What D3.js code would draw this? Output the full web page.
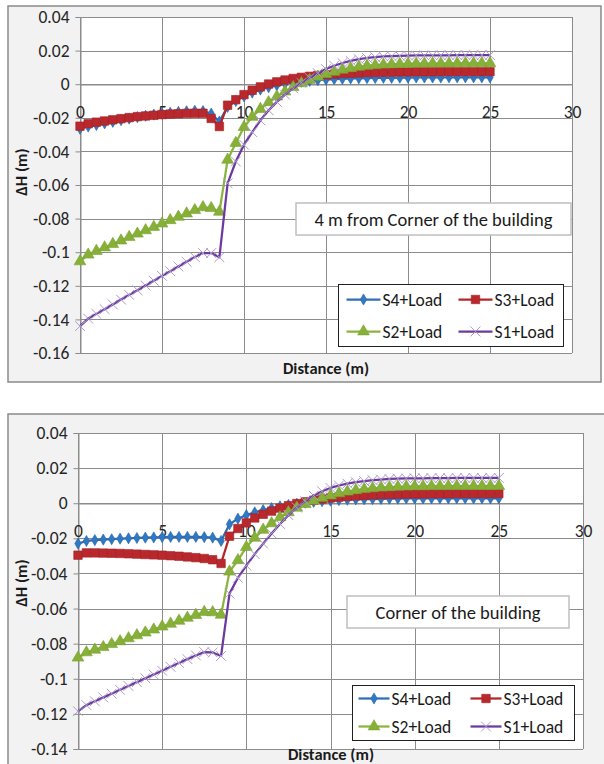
<!DOCTYPE html>
<html>
<head>
<meta charset="utf-8">
<script src="https://cdn.jsdelivr.net/npm/d3@7"></script>
<style>
  html, body { margin: 0; padding: 0; background: #ffffff; }
  svg { display: block; }
  text { font-family: Carlito, Lato, "Open Sans", sans-serif; }
</style>
</head>
<body>
<script>
// Distance along the section (m), sampled every 0.5 m
const distance = [
  0, 0.5, 1, 1.5, 2, 2.5, 3, 3.5, 4, 4.5, 5, 5.5, 6, 6.5, 7, 7.5, 8, 8.5,
  9, 9.5, 10, 10.5, 11, 11.5, 12, 12.5, 13, 13.5, 14, 14.5, 15, 15.5, 16, 16.5,
  17, 17.5, 18, 18.5, 19, 19.5, 20, 20.5, 21, 21.5, 22, 22.5, 23, 23.5, 24, 24.5, 25
];

const seriesNames = ["S4+Load", "S3+Load", "S2+Load", "S1+Load"];

// ---- 4 m from corner of the building: ΔH (m) ----
const s4Offset = [
  -0.0265, -0.0252, -0.0243, -0.0233, -0.0224, -0.0214, -0.0205, -0.0196, -0.0188, -0.0181,
  -0.0175, -0.0170, -0.0165, -0.0161, -0.0158, -0.0160, -0.0175, -0.0222,
  -0.0135, -0.0100, -0.0072, -0.0050, -0.0032, -0.0018, -0.0007, 0.0002, 0.0009, 0.0015,
  0.0020, 0.0024, 0.0027, 0.0030, 0.0032, 0.0034, 0.0035, 0.0036, 0.0037, 0.0038, 0.0038,
  0.0039, 0.0039, 0.0040, 0.0040, 0.0040, 0.0040, 0.0041, 0.0041, 0.0041, 0.0041, 0.0041, 0.0041
];
const s3Offset = [
  -0.0250, -0.0235, -0.0226, -0.0219, -0.0212, -0.0205, -0.0199, -0.0193, -0.0189, -0.0185,
  -0.0181, -0.0178, -0.0176, -0.0174, -0.0173, -0.0173, -0.0204, -0.0252,
  -0.0125, -0.0092, -0.0062, -0.0036, -0.0016, 0.0001, 0.0014, 0.0025, 0.0034, 0.0041,
  0.0047, 0.0052, 0.0056, 0.0060, 0.0063, 0.0065, 0.0067, 0.0069, 0.0070, 0.0071, 0.0072,
  0.0073, 0.0073, 0.0074, 0.0074, 0.0074, 0.0075, 0.0075, 0.0075, 0.0075, 0.0075, 0.0075, 0.0075
];
const s2Offset = [
  -0.1055, -0.1015, -0.0993, -0.0972, -0.0952, -0.0931, -0.0910, -0.0890, -0.0870, -0.0850,
  -0.0830, -0.0810, -0.0790, -0.0770, -0.0750, -0.0733, -0.0738, -0.0760,
  -0.0450, -0.0350, -0.0255, -0.0195, -0.0148, -0.0108, -0.0074, -0.0044, -0.0018, 0.0005,
  0.0025, 0.0044, 0.0060, 0.0074, 0.0086, 0.0095, 0.0103, 0.0109, 0.0113, 0.0116, 0.0118,
  0.0120, 0.0121, 0.0122, 0.0122, 0.0123, 0.0123, 0.0123, 0.0124, 0.0124, 0.0124, 0.0124, 0.0124
];
const s1Offset = [
  -0.1440, -0.1395, -0.1367, -0.1339, -0.1311, -0.1282, -0.1254, -0.1226, -0.1198, -0.1170,
  -0.1141, -0.1113, -0.1085, -0.1057, -0.1029, -0.1005, -0.1005, -0.1030,
  -0.0590, -0.0460, -0.0360, -0.0285, -0.0215, -0.0155, -0.0105, -0.0062, -0.0025, 0.0008,
  0.0038, 0.0065, 0.0090, 0.0110, 0.0126, 0.0139, 0.0149, 0.0156, 0.0161, 0.0165, 0.0167,
  0.0169, 0.0170, 0.0171, 0.0171, 0.0172, 0.0172, 0.0172, 0.0173, 0.0173, 0.0173, 0.0173, 0.0173
];

// ---- Corner of the building: ΔH (m) ----
const s4Corner = [
  -0.0230, -0.0215, -0.0210, -0.0207, -0.0205, -0.0202, -0.0200, -0.0198, -0.0196, -0.0195,
  -0.0193, -0.0192, -0.0192, -0.0192, -0.0192, -0.0193, -0.0196, -0.0215,
  -0.0120, -0.0088, -0.0068, -0.0052, -0.0039, -0.0028, -0.0018, -0.0010, -0.0003, 0.0003,
  0.0008, 0.0012, 0.0015, 0.0018, 0.0020, 0.0022, 0.0023, 0.0024, 0.0025, 0.0026, 0.0026,
  0.0027, 0.0027, 0.0027, 0.0028, 0.0028, 0.0028, 0.0028, 0.0028, 0.0028, 0.0028, 0.0028, 0.0028
];
const s3Corner = [
  -0.0296, -0.0283, -0.0283, -0.0284, -0.0285, -0.0286, -0.0288, -0.0290, -0.0292, -0.0294,
  -0.0296, -0.0299, -0.0302, -0.0306, -0.0310, -0.0315, -0.0322, -0.0343,
  -0.0188, -0.0144, -0.0112, -0.0084, -0.0063, -0.0045, -0.0028, -0.0014, -0.0002, 0.0008,
  0.0017, 0.0024, 0.0030, 0.0035, 0.0039, 0.0042, 0.0045, 0.0047, 0.0049, 0.0050, 0.0051,
  0.0052, 0.0053, 0.0053, 0.0054, 0.0054, 0.0054, 0.0055, 0.0055, 0.0055, 0.0055, 0.0055, 0.0055
];
const s2Corner = [
  -0.0880, -0.0850, -0.0835, -0.0820, -0.0803, -0.0787, -0.0770, -0.0753, -0.0737, -0.0720,
  -0.0703, -0.0687, -0.0670, -0.0653, -0.0637, -0.0620, -0.0622, -0.0636,
  -0.0390, -0.0325, -0.0250, -0.0197, -0.0152, -0.0115, -0.0080, -0.0052, -0.0026, -0.0005,
  0.0014, 0.0030, 0.0044, 0.0056, 0.0066, 0.0074, 0.0080, 0.0085, 0.0089, 0.0091, 0.0093,
  0.0095, 0.0096, 0.0096, 0.0097, 0.0097, 0.0097, 0.0098, 0.0098, 0.0098, 0.0098, 0.0098, 0.0098
];
const s1Corner = [
  -0.1185, -0.1150, -0.1128, -0.1106, -0.1085, -0.1063, -0.1041, -0.1019, -0.0997, -0.0976,
  -0.0954, -0.0932, -0.0910, -0.0888, -0.0867, -0.0848, -0.0850, -0.0870,
  -0.0515, -0.0425, -0.0355, -0.0290, -0.0230, -0.0172, -0.0118, -0.0068, -0.0025, 0.0012,
  0.0043, 0.0068, 0.0087, 0.0101, 0.0112, 0.0120, 0.0126, 0.0131, 0.0135, 0.0138, 0.0140,
  0.0141, 0.0142, 0.0142, 0.0143, 0.0143, 0.0143, 0.0144, 0.0144, 0.0144, 0.0144, 0.0144, 0.0144
];

// Axis ticks
const xTicks = [0, 5, 10, 15, 20, 25, 30];
const xTickLabels = ["0", "5", "10", "15", "20", "25", "30"];
const yTicksOffset = [0.04, 0.02, 0, -0.02, -0.04, -0.06, -0.08, -0.1, -0.12, -0.14, -0.16];
const yTickLabelsOffset = ["0.04", "0.02", "0", "-0.02", "-0.04", "-0.06", "-0.08", "-0.1", "-0.12", "-0.14", "-0.16"];
const yTicksCorner = [0.04, 0.02, 0, -0.02, -0.04, -0.06, -0.08, -0.1, -0.12, -0.14];
const yTickLabelsCorner = ["0.04", "0.02", "0", "-0.02", "-0.04", "-0.06", "-0.08", "-0.1", "-0.12", "-0.14"];

const chartTitles = ["4 m from Corner of the building", "Corner of the building"];
const xTitle = "Distance (m)";
const yTitle = "ΔH (m)";

// Series appearance: S4 diamond, S3 square, S2 triangle, S1 cross
const styles = [
  { line: "#2f6fba", fill: "#2f78c4", stroke: "#2565a8", type: d3.symbolDiamond, size: 36, cross: false },
  { line: "#b3262a", fill: "#b8282c", stroke: "#a52226", type: d3.symbolSquare, size: 72, cross: false },
  { line: "#8ab43c", fill: "#86b038", stroke: "#7aa233", type: d3.symbolTriangle, size: 60, cross: false },
  { line: "#6c3a9e", fill: "none", stroke: "#ad9bcc", type: d3.symbolTimes, size: 64, cross: true }
];

const svg = d3.select("body").append("svg")
  .attr("width", 604).attr("height", 764);

function drawPanel(cfg) {
  const g = svg.append("g");

  // chart area
  g.append("rect")
    .attr("x", cfg.frame[0]).attr("y", cfg.frame[1])
    .attr("width", cfg.frame[2]).attr("height", cfg.frame[3])
    .attr("fill", "#f2f2f2").attr("stroke", "#8a8a8a").attr("stroke-width", 1.5);

  const x = d3.scaleLinear().domain([0, 30]).range([cfg.plot.left, cfg.plot.right]);
  const y = d3.scaleLinear().domain([cfg.yTicks[0], cfg.yTicks[cfg.yTicks.length - 1]])
    .range([cfg.plot.top, cfg.plot.bottom]);

  // plot area
  g.append("rect")
    .attr("x", cfg.plot.left).attr("y", cfg.plot.top)
    .attr("width", cfg.plot.right - cfg.plot.left).attr("height", cfg.plot.bottom - cfg.plot.top)
    .attr("fill", "#ffffff");

  // gridlines
  const grid = g.append("g").attr("stroke", "#8c8c8c").attr("stroke-width", 1).attr("shape-rendering", "crispEdges");
  grid.selectAll("line.h").data(cfg.yTicks).join("line")
    .attr("x1", cfg.plot.left).attr("x2", cfg.plot.right)
    .attr("y1", d => Math.round(y(d)) + 0.5).attr("y2", d => Math.round(y(d)) + 0.5);
  grid.selectAll("line.v").data(xTicks).join("line")
    .attr("x1", d => Math.round(x(d)) + 0.5).attr("x2", d => Math.round(x(d)) + 0.5)
    .attr("y1", cfg.plot.top).attr("y2", cfg.plot.bottom);

  // y axis with outward ticks
  const yAxis = d3.axisLeft(y).tickValues(cfg.yTicks)
    .tickFormat((d, i) => cfg.yLabels[i]).tickSize(5).tickPadding(6);
  const ya = g.append("g").attr("transform", `translate(${Math.round(cfg.plot.left) + 0.5},0)`).call(yAxis);
  ya.select(".domain").attr("stroke", "#8c8c8c");
  ya.selectAll(".tick line").attr("stroke", "#8c8c8c");
  ya.selectAll(".tick text").attr("fill", "#262626").style("font-size", "17.5px");

  // x axis crossing at ΔH = 0
  const xAxis = d3.axisBottom(x).tickValues(xTicks)
    .tickFormat((d, i) => xTickLabels[i]).tickSize(0).tickPadding(21);
  const xa = g.append("g").attr("transform", `translate(0,${Math.round(y(0)) + 0.5})`).call(xAxis);
  xa.select(".domain").attr("stroke", "#8c8c8c");
  xa.selectAll(".tick text").attr("fill", "#262626").style("font-size", "17.5px");

  // series
  const lineGen = d3.line().x((d, i) => x(distance[i])).y(d => y(d));
  cfg.series.forEach((vals, k) => {
    const st = styles[k];
    const sg = g.append("g");
    sg.append("path").datum(vals)
      .attr("d", lineGen).attr("fill", "none")
      .attr("stroke", st.line).attr("stroke-width", 2.25).attr("stroke-linejoin", "round");
    const sym = d3.symbol().type(st.type).size(st.size);
    sg.selectAll("path.m").data(vals).join("path")
      .attr("class", "m")
      .attr("transform", (d, i) => `translate(${x(distance[i])},${y(d)})`)
      .attr("d", sym)
      .attr("fill", st.cross ? "none" : st.fill)
      .attr("stroke", st.stroke)
      .attr("stroke-width", st.cross ? 1 : 0.6);
  });

  // title box
  const tb = cfg.titleBox;
  g.append("rect").attr("x", tb[0]).attr("y", tb[1]).attr("width", tb[2]).attr("height", tb[3])
    .attr("fill", "#ffffff").attr("stroke", "#bfbfbf").attr("stroke-width", 1.5);
  g.append("text").attr("x", tb[0] + tb[2] / 2).attr("y", tb[1] + tb[3] / 2)
    .attr("text-anchor", "middle").attr("dominant-baseline", "central")
    .attr("fill", "#1a1a1a").style("font-size", "18.5px").text(cfg.title);

  // legend
  const lb = cfg.legendBox;
  g.append("rect").attr("x", lb[0]).attr("y", lb[1]).attr("width", lb[2]).attr("height", lb[3])
    .attr("fill", "#ffffff").attr("stroke", "#202020").attr("stroke-width", 1);
  seriesNames.forEach((name, k) => {
    const col = k % 2, row = Math.floor(k / 2);
    const lx = lb[0] + cfg.legendCols[col];
    const ly = lb[1] + cfg.legendRows[row];
    const st = styles[k];
    g.append("line").attr("x1", lx).attr("x2", lx + cfg.legendLine)
      .attr("y1", ly).attr("y2", ly)
      .attr("stroke", st.line).attr("stroke-width", 2.25);
    g.append("path")
      .attr("transform", `translate(${lx + cfg.legendLine / 2},${ly})`)
      .attr("d", d3.symbol().type(st.type).size(st.size))
      .attr("fill", st.cross ? "none" : st.fill)
      .attr("stroke", st.stroke).attr("stroke-width", st.cross ? 1 : 0.6);
    g.append("text").attr("x", lx + cfg.legendLine + 2).attr("y", ly)
      .attr("dominant-baseline", "central").attr("fill", "#1a1a1a")
      .style("font-size", "17.5px").text(name);
  });

  // axis titles
  g.append("text").attr("x", cfg.xTitlePos[0]).attr("y", cfg.xTitlePos[1])
    .attr("text-anchor", "middle").attr("dominant-baseline", "central")
    .attr("fill", "#1a1a1a").style("font-size", "16.5px").style("font-weight", "bold").text(xTitle);
  g.append("text")
    .attr("transform", `translate(${cfg.yTitlePos[0]},${cfg.yTitlePos[1]}) rotate(-90)`)
    .attr("text-anchor", "middle").attr("dominant-baseline", "central")
    .attr("fill", "#1a1a1a").style("font-size", "16.5px").style("font-weight", "bold").text(yTitle);
}

drawPanel({
  frame: [8, 6, 593, 376],
  plot: { left: 80, right: 572, top: 17, bottom: 353 },
  yTicks: yTicksOffset, yLabels: yTickLabelsOffset,
  series: [s4Offset, s3Offset, s2Offset, s1Offset],
  title: chartTitles[0],
  titleBox: [296, 203, 275, 32],
  legendBox: [338.5, 284.5, 225, 62],
  legendCols: [8, 120], legendRows: [15, 47], legendLine: 34,
  xTitlePos: [326, 368],
  yTitlePos: [21, 172]
});

drawPanel({
  frame: [8, 414, 600, 360],
  plot: { left: 78, right: 583, top: 433, bottom: 749 },
  yTicks: yTicksCorner, yLabels: yTickLabelsCorner,
  series: [s4Corner, s3Corner, s2Corner, s1Corner],
  title: chartTitles[1],
  titleBox: [347, 596, 222, 32],
  legendBox: [352.5, 685.5, 222, 55],
  legendCols: [6, 118], legendRows: [13, 41], legendLine: 31,
  xTitlePos: [331, 754],
  yTitlePos: [21, 583]
});
</script>
</body>
</html>
